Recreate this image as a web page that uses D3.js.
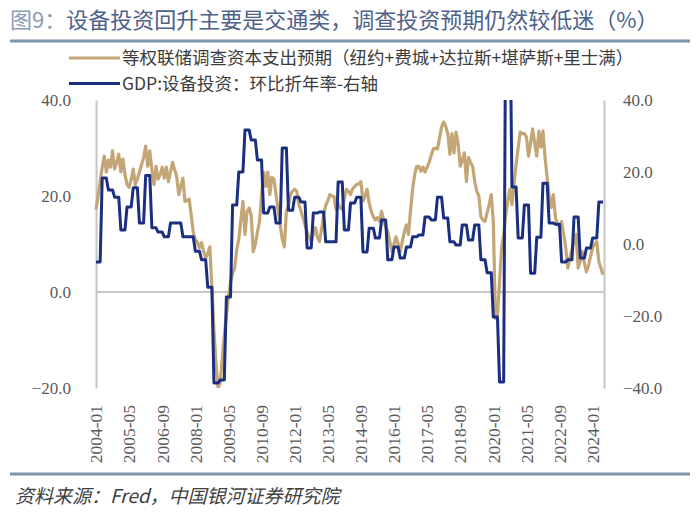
<!DOCTYPE html>
<html><head><meta charset="utf-8">
<script src="https://cdn.jsdelivr.net/npm/d3@7"></script>
<style>
html,body{margin:0;padding:0;background:#fff;}
svg{display:block;}
</style></head>
<body>
<svg id="chart" width="700" height="519"></svg>
<script>
// ---------- DATA ----------
const startYear = 2004, endYear = 2024, endMonth = 6;
const months = [];
for (let y = startYear; y <= endYear; y++) {
  for (let m = 1; m <= 12; m++) {
    if (y === endYear && m > endMonth) break;
    months.push(y + "-" + String(m).padStart(2, "0"));
  }
}
// 等权联储调查资本支出预期 (monthly, left axis)
const capexSurvey = [
17.2,20,23,26,28.3,25,27.5,26,29.4,25.6,27,28.7,
25,27.7,24.5,22.4,21.8,23.5,25.6,22.4,23.5,25,26.5,28,
30.4,26.2,29.4,25.5,22.4,26.2,23.5,24.5,26,23.7,26,23,
25,27,25.5,24,20.3,22,23.7,18.9,19,19.4,16.1,12.4,
11,10.3,9.2,10.3,8.5,7.1,8,9.4,0.8,-8,-15,-20,
-19,-14,-9,-5,-1,2,4,5,8.8,11,15,18.9,
12,16.8,17.5,16,8.4,10,12.5,14.7,20,25,22,25,
20.3,23.9,23.5,20.3,17,14,11,9.4,16.8,18,20.3,21,
21.4,21,18.2,17,15.5,14,12.6,11.5,10.5,12,13.4,11.5,
10.5,13,16.1,18,19,20.3,20,19.9,17.2,18.5,17.5,17.2,
19.5,21.4,21,20.3,21.5,22,22.4,22.5,23,18.9,20,21.4,
18.5,16.8,15.7,15,15.5,14.7,16.8,15,13.5,12.6,10.5,8.4,
10,11.5,10,8.4,10.5,12.5,14,12,17,21.5,24.5,26.2,
26.2,25.2,26,25,26,27,28.5,29.8,30,29.8,32,34.4,
35.4,34.5,33,28.7,33,29,33.3,30.8,26.2,27.5,29,23,
28,27,26.2,23,21,20,15.7,15,14.7,16.5,18.2,20.3,
14.7,-5.5,-4.8,2,9.2,12,16,19,21.4,18.2,22.4,26.6,
30,33.3,33,33,32.3,28.3,31,34,31,28.3,33.5,30.2,
33.5,28,23.9,20,17.6,20.3,15.5,14,13.6,14.7,12,9.2,
5,7,8.8,10.5,12,5,6.5,8.4,6,4.2,5.5,7.5,
9.2,10,10.5,6.3,5,3.6
];
// GDP:设备投资：环比折年率 (quarterly, 2004Q1-2024Q2, right axis)
const equipInvQ = [
-5,18.3,15,13, 3.9,10.3,15.6,5.8, 19,4.5,3.3,2, 5.8,5.8,2,2,
-2,-4.4,-12,-38.6, -37.8,-14.7,10.8,20, 31.7,28.9,23.3,8.6, 10.3,5.8,26.7,9.4,
13,11.7,-1.1,8.6, 8.9,0.6,0.6,17.2, 3.9,11.4,13,-2.2, 4.4,1.7,6.7,-4.4,
-0.8,-3.9,-0.8,2, 2.5,7.5,6.7,13, 7.2,0.6,-0.3,5.3, 1.1,5.3,-4.4,-8,
-20.3,-38.3,68,15.8, 1.7,10.8,-8.1,1.9, 16.9,5.8,5.5,-5, -4.4,7.5,-3.9,-1.1,
1.7,11.7
];
const xTickLabels = ["2004-01","2005-05","2006-09","2008-01","2009-05","2010-09","2012-01","2013-05",
  "2014-09","2016-01","2017-05","2018-09","2020-01","2021-05","2022-09","2024-01"];
const leftTicks = [-20, 0, 20, 40];
const rightTicks = [-40, -20, 0, 20, 40];
const seriesNames = ["等权联储调查资本支出预期（纽约+费城+达拉斯+堪萨斯+里士满）", "GDP:设备投资：环比折年率-右轴"];
const titleText = "设备投资回升主要是交通类，调查投资预期仍然较低迷（%）";
const sourceText = "资料来源：Fred，中国银河证券研究院";

// ---------- LAYOUT ----------
const svg = d3.select("#chart");
const plot = {left: 96, right: 604, top: 100, bottom: 388};
const numFont = "'Liberation Serif', 'DejaVu Serif', serif";
const cjkFont = "'Noto Sans CJK SC', 'Noto Sans', sans-serif";
const tanColor = "#c4a676";
const navyColor = "#1b2f80";

const x = d3.scalePoint().domain(months).range([plot.left, plot.right - 1]);
const yL = d3.scaleLinear().domain([-20, 40]).range([plot.bottom, plot.top]);
const yR = d3.scaleLinear().domain([-40, 40]).range([plot.bottom, plot.top]);

// Title
const title = svg.append("text").attr("x", 10).attr("y", 28)
  .attr("font-family", cjkFont).attr("font-size", 22);
title.append("tspan").attr("fill", "#8c9cb8").text("图9：");
title.append("tspan").attr("fill", "#4d6189").text(titleText);
svg.append("line").attr("x1", 10).attr("x2", 690).attr("y1", 41).attr("y2", 41)
  .attr("stroke", "#7f93ad").attr("stroke-width", 3);

// Legend
const legend = [{name: seriesNames[0], color: tanColor, y: 58}, {name: seriesNames[1], color: navyColor, y: 83.5}];
legend.forEach(l => {
  svg.append("line").attr("x1", 69).attr("x2", 120).attr("y1", l.y).attr("y2", l.y)
    .attr("stroke", l.color).attr("stroke-width", 3);
  svg.append("text").attr("x", 122).attr("y", l.y).attr("dy", "0.35em")
    .attr("font-family", cjkFont).attr("font-size", 17.5).attr("fill", "#3c3c3c").text(l.name);
});

// Axes
const gL = svg.append("g").attr("transform", `translate(${plot.left},0)`)
  .call(d3.axisLeft(yL).tickValues(leftTicks).tickFormat(d3.format(".1f")).tickSize(0).tickPadding(25));
const gR = svg.append("g").attr("transform", `translate(${plot.right},0)`)
  .call(d3.axisRight(yR).tickValues(rightTicks).tickFormat(d3.format(".1f")).tickSize(0).tickPadding(19));
[gL, gR].forEach(g => {
  g.attr("font-family", numFont);
  g.select(".domain").attr("stroke", "#c6c6c6").attr("stroke-width", 2);
  g.selectAll("text").attr("font-family", numFont).attr("font-size", 17).attr("fill", "#595959");
});
// zero line of the left axis
svg.append("line").attr("x1", plot.left).attr("x2", plot.right).attr("y1", yL(0)).attr("y2", yL(0))
  .attr("stroke", "#c6c6c6").attr("stroke-width", 2);

const gX = svg.append("g").attr("transform", `translate(0,${plot.bottom})`)
  .call(d3.axisBottom(x).tickValues(xTickLabels).tickSize(0));
gX.attr("font-family", numFont);
gX.select(".domain").remove();
gX.selectAll("text")
  .attr("font-family", numFont).attr("font-size", 17.5).attr("fill", "#595959")
  .attr("transform", "rotate(-90)").attr("text-anchor", "end")
  .attr("x", -17).attr("y", 0).attr("dy", "0.33em");

// Clip
svg.append("defs").append("clipPath").attr("id", "clip").append("rect")
  .attr("x", plot.left - 5).attr("y", plot.top).attr("width", plot.right - plot.left + 10).attr("height", plot.bottom - plot.top);

// Lines
const tanData = months.map((m, i) => ({m, v: capexSurvey[i]}));
const navyData = months.map((m, i) => ({m, v: equipInvQ[Math.floor(i / 3)]}));
const g = svg.append("g").attr("clip-path", "url(#clip)");
g.append("path").datum(tanData)
  .attr("d", d3.line().x(d => x(d.m)).y(d => yL(d.v)))
  .attr("fill", "none").attr("stroke", tanColor).attr("stroke-width", 3.2).attr("stroke-linejoin", "round");
g.append("path").datum(navyData)
  .attr("d", d3.line().x(d => x(d.m)).y(d => yR(d.v)))
  .attr("fill", "none").attr("stroke", navyColor).attr("stroke-width", 3).attr("stroke-linejoin", "round");

// Footer
svg.append("line").attr("x1", 10).attr("x2", 690).attr("y1", 474).attr("y2", 474)
  .attr("stroke", "#7f93ad").attr("stroke-width", 3);
svg.append("text").attr("x", 15).attr("y", 496).attr("dy", "0.35em")
  .attr("font-family", cjkFont).attr("font-size", 19).attr("font-style", "italic")
  .attr("fill", "#404040").text(sourceText);
</script>
</body></html>
